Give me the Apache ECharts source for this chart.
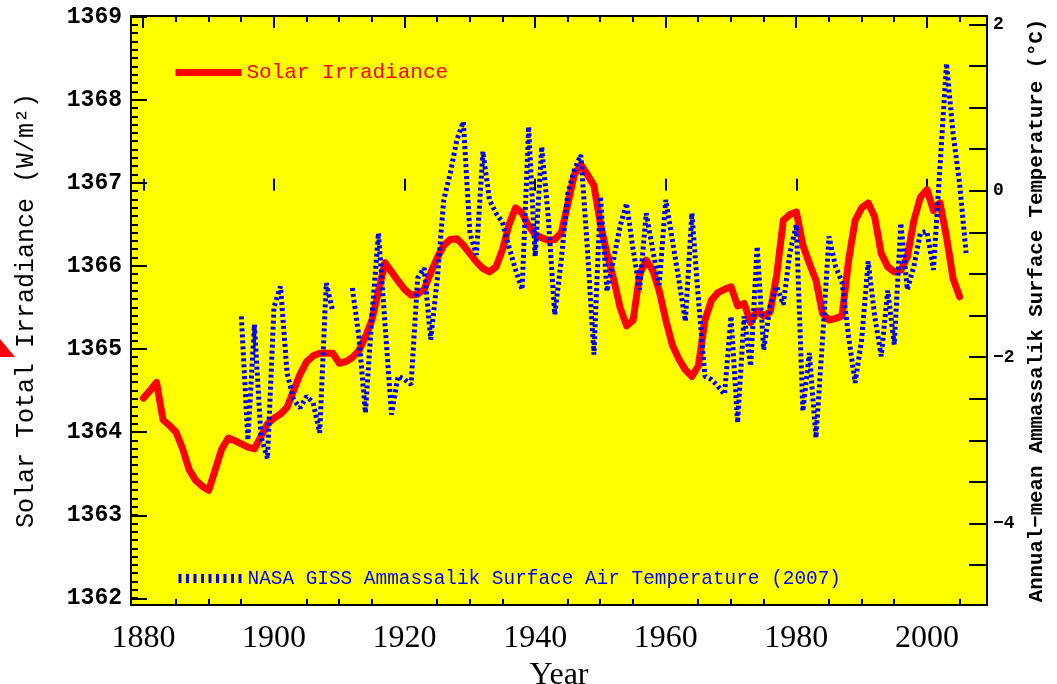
<!DOCTYPE html>
<html>
<head>
<meta charset="utf-8">
<script src="https://cdn.jsdelivr.net/npm/echarts@6/dist/echarts.min.js"></script>
<style>html,body{margin:0;padding:0;background:#fff;}#chart{width:1057px;height:684px;}</style>
</head>
<body>
<div id="chart"></div>
<script>
// ---------------- DATA ----------------
const solarStartYear = 1880;
const solarIrradiance = [
  1364.41,1364.50,1364.60,1364.15,1364.08,1364.00,1363.80,1363.55,1363.42,1363.35,
  1363.30,1363.55,1363.80,1363.93,1363.90,1363.86,1363.82,1363.80,1363.95,1364.10,
  1364.17,1364.22,1364.30,1364.50,1364.70,1364.85,1364.92,1364.95,1364.95,1364.95,
  1364.83,1364.85,1364.90,1364.98,1365.15,1365.35,1365.70,1366.04,1365.93,1365.82,
  1365.72,1365.65,1365.66,1365.72,1365.92,1366.10,1366.25,1366.32,1366.33,1366.25,
  1366.15,1366.05,1365.97,1365.93,1365.99,1366.20,1366.50,1366.70,1366.64,1366.48,
  1366.38,1366.34,1366.31,1366.32,1366.40,1366.75,1367.10,1367.22,1367.10,1366.97,
  1366.50,1366.15,1365.85,1365.50,1365.28,1365.35,1365.90,1366.07,1365.95,1365.70,
  1365.35,1365.05,1364.88,1364.75,1364.67,1364.80,1365.35,1365.59,1365.68,1365.72,
  1365.75,1365.52,1365.55,1365.32,1365.46,1365.40,1365.45,1365.90,1366.55,1366.62,
  1366.65,1366.25,1366.03,1365.83,1365.43,1365.35,1365.37,1365.40,1366.07,1366.55,
  1366.70,1366.76,1366.59,1366.15,1365.99,1365.93,1365.95,1366.11,1366.55,1366.83,
  1366.92,1366.67,1366.76,1366.35,1365.85,1365.63
];
const tempStartYear = 1895;
const ammassalikTemp = [
  -1.51,-3.00,-1.61,-2.95,-3.22,-1.40,-1.15,-2.19,-2.51,-2.61,
  -2.47,-2.55,-2.91,-1.11,-1.45,null,null,-1.17,-1.75,-2.67,
  -1.50,-0.51,-1.60,-2.69,-2.23,-2.27,-2.33,-1.05,-0.93,-1.79,
  -1.07,-0.11,0.21,0.61,0.83,-0.51,-0.77,0.47,-0.11,-0.27,
  -0.38,-0.68,-0.95,-1.19,0.77,-0.79,0.53,-0.31,-1.49,-0.83,
  -0.03,0.25,0.43,-0.70,-1.97,-0.07,-1.21,-0.83,-0.43,-0.15,
  -0.71,-1.19,-0.27,-0.71,-1.13,-0.11,-0.59,-1.07,-1.57,-0.27,
  -1.30,-2.23,-2.27,-2.35,-2.45,-1.51,-2.79,-1.51,-2.11,-0.67,
  -1.91,-1.38,-1.15,-1.37,-0.75,-0.41,-2.65,-1.95,-2.97,-1.80,
  -0.55,-0.91,-1.10,-1.75,-2.31,-1.79,-0.85,-1.51,-1.99,-1.20,
  -1.85,-0.39,-1.19,-0.91,-0.51,-0.49,-0.95,0.29,1.53,0.69,
  0.09,-0.75
];
const xTickLabels = [1880, 1900, 1920, 1940, 1960, 1980, 2000];
const xMinorTicks = [1880,1885,1890,1895,1900,1905,1910,1915,1920,1925,1930,1935,1940,1945,1950,1955,1960,1965,1970,1975,1980,1985,1990,1995,2000,2005];
const leftTickLabels = [1362, 1363, 1364, 1365, 1366, 1367, 1368, 1369];
const rightTickLabels = [2, 0, -2, -4];
const rightTicks = [2, 1.5, 1, 0.5, 0, -0.5, -1, -1.5, -2, -2.5, -3, -3.5, -4, -4.5];
const solarName = 'Solar Irradiance';
const tempName = 'NASA GISS Ammassalik Surface Air Temperature (2007)';

// ---------------- BUILD ----------------
const solarData = solarIrradiance.map((v, i) => [solarStartYear + i, v]);
const tempData = ammassalikTemp.map((v, i) => [tempStartYear + i, v]);
const leftMinor = [];
for (let i = 0; i <= 70; i++) leftMinor.push(Math.round((1362 + i * 0.1) * 10) / 10);

const X_MIN = 1878.1, X_MAX = 2009.2;
const L_MIN = 1361.92, L_MAX = 1369.01;
const R_MIN = -4.98, R_MAX = 2.10;

const tickStyle = { color: '#000', width: 2 };
const triangle = { type: 'polygon', shape: { points: [[0, 339], [15, 357], [0, 357]] },
  style: { fill: '#ff0000' }, silent: true };

const chart = echarts.init(document.getElementById('chart'), null, { renderer: 'canvas' });
chart.setOption({
  animation: false,
  backgroundColor: '#ffffff',
  grid: { left: 131, right: 70, top: 16, bottom: 79, show: true, outerBoundsMode: 'none', containLabel: false,
    backgroundColor: '#ffff00', borderColor: '#000', borderWidth: 2 },
  legend: [
    { data: [solarName], left: 172, top: 62, padding: 0, itemWidth: 66, itemHeight: 14,
      selectedMode: false, itemStyle: { opacity: 0 }, lineStyle: { width: 7, type: 'solid', cap: 'butt' },
      textStyle: { color: '#ff0000', fontFamily: 'Liberation Mono', fontSize: 21 } },
    { data: [tempName], left: 174, top: 569, padding: 0, itemWidth: 64, itemHeight: 14,
      selectedMode: false, itemStyle: { opacity: 0 }, lineStyle: { width: 9, type: [3, 4.5], cap: 'butt' },
      textStyle: { color: '#0000ff', fontFamily: 'Liberation Mono', fontSize: 19.4 } }
  ],
  xAxis: [
    { type: 'value', min: X_MIN, max: X_MAX, position: 'bottom',
      axisLine: { show: false }, splitLine: { show: false },
      axisTick: { show: true, inside: true, length: 12, lineStyle: tickStyle, customValues: xTickLabels },
      axisLabel: { show: true, customValues: xTickLabels, margin: 18, color: '#000',
        fontFamily: 'Liberation Serif', fontSize: 32, formatter: v => String(v) },
      name: 'Year', nameLocation: 'middle', nameGap: 54,
      nameTextStyle: { color: '#000', fontFamily: 'Liberation Serif', fontSize: 32 } }
  ],
  yAxis: [
    { type: 'value', min: L_MIN, max: L_MAX, position: 'left',
      axisLine: { show: false }, splitLine: { show: false },
      axisTick: { show: true, inside: true, length: 16, lineStyle: tickStyle, customValues: leftTickLabels },
      axisLabel: { show: true, customValues: leftTickLabels, margin: 9, color: '#000',
        fontFamily: 'Liberation Mono', fontWeight: 'bold', fontSize: 23, formatter: v => String(v) },
      name: 'Solar Total Irradiance (W/m²)', nameLocation: 'middle', nameGap: 92, nameRotate: 90,
      nameTextStyle: { color: '#000', fontFamily: 'Liberation Mono', fontSize: 25 } },
    { type: 'value', min: R_MIN, max: R_MAX, position: 'right',
      axisLine: { show: false }, splitLine: { show: false },
      axisTick: { show: true, inside: true, length: 18, lineStyle: tickStyle, customValues: rightTicks },
      axisLabel: { show: true, customValues: rightTickLabels, margin: 6, color: '#000',
        fontFamily: 'Liberation Mono', fontWeight: 'bold', fontSize: 18,
        formatter: v => String(v).replace('-', '\u2212') },
      name: 'Annual\u2212mean Ammassalik Surface Temperature (°C)', nameLocation: 'middle', nameGap: 39, nameRotate: 90,
      nameTextStyle: { color: '#000', fontFamily: 'Liberation Mono', fontWeight: 'bold', fontSize: 20.7 } }
  ],
  series: [
    { name: solarName, type: 'line', xAxisIndex: 0, yAxisIndex: 0, data: solarData,
      symbol: 'none', lineStyle: { color: '#ff0000', width: 7, join: 'round', cap: 'round' },
      itemStyle: { color: '#ff0000' }, z: 2 },
    { name: tempName, type: 'line', xAxisIndex: 0, yAxisIndex: 1, data: tempData,
      symbol: 'none', connectNulls: false,
      lineStyle: { color: '#0000ff', width: 5, type: [3, 3], cap: 'butt' },
      itemStyle: { color: '#0000ff' }, z: 3 }
  ],
  graphic: [triangle]
});

// Minor ticks and top-edge ticks, positioned through the chart's own scales.
(function addTicks() {
  const px = v => chart.convertToPixel({ xAxisIndex: 0 }, v);
  const py = v => chart.convertToPixel({ yAxisIndex: 0 }, v);
  const top = py(L_MAX), bottom = py(L_MIN), left = px(X_MIN);
  const els = [triangle];
  const ln = (x1, y1, x2, y2) => ({ type: 'line', silent: true, z: 5,
    shape: { x1, y1, x2, y2 }, style: { stroke: '#000', lineWidth: 2 } });
  xMinorTicks.forEach(v => {
    const x = Math.round(px(v));
    const major = xTickLabels.indexOf(v) >= 0;
    els.push(ln(x, top, x, top + (major ? 12 : 6)));
    if (!major) els.push(ln(x, bottom, x, bottom - 6));
  });
  leftMinor.forEach(v => {
    const y = Math.round(py(v));
    els.push(ln(left, y, left + 7, y));
  });
  chart.setOption({ graphic: els }, { replaceMerge: ['graphic'] });
})();
</script>
</body>
</html>
